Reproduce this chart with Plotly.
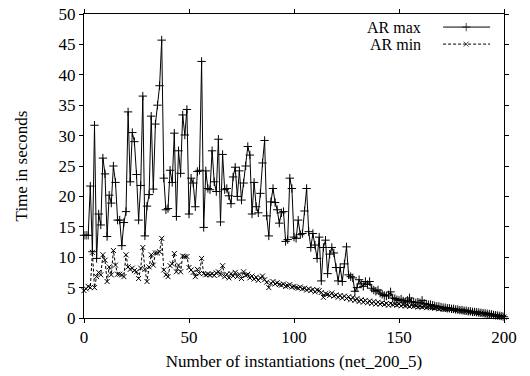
import plotly.graph_objects as go

# ---- data ----
x_vals = list(range(0, 201))

ar_max = [
    13.6, 13.6, 13.6, 21.7, 10.9, 31.7, 9.8, 17.1, 15.3, 26.3,
    23.7, 13.4, 20.2, 18.9, 25.0, 22.3, 16.1, 16.1, 11.9, 15.7,
    17.5, 33.9, 22.4, 30.5, 29.0, 23.6, 16.1, 21.8, 36.5, 13.5,
    18.4, 20.3, 33.2, 21.2, 31.9, 35.0, 38.2, 45.7, 23.0, 17.8,
    18.0, 24.3, 22.3, 30.4, 16.7, 27.5, 23.8, 33.4, 30.1, 34.3,
    17.1, 23.0, 22.2, 18.3, 24.1, 24.3, 42.2, 14.9, 24.2, 21.3,
    21.1, 27.5, 22.4, 20.8, 29.4, 15.8, 26.9, 21.1, 21.3, 20.1,
    18.8, 23.2, 24.8, 20.0, 24.2, 19.4, 22.2, 25.0, 28.2, 26.8,
    17.1, 22.3, 18.3, 17.3, 20.5, 25.5, 29.2, 16.8, 13.5, 19.1,
    21.3, 19.0, 17.8, 15.6, 17.3, 17.5, 12.6, 12.9, 23.0, 21.3,
    13.3, 13.1, 16.1, 13.7, 13.9, 17.6, 21.3, 14.2, 11.6, 13.9,
    12.0, 9.8, 13.3, 6.1, 11.6, 12.8, 7.3, 10.5, 11.6, 10.7,
    8.3, 6.1, 8.3, 6.0, 8.9, 11.7, 7.1, 6.8, 6.6, 4.4,
    5.0, 6.3, 5.6, 5.2, 6.0, 5.5, 6.0, 4.9, 4.6, 4.4,
    4.6, 4.1, 3.9, 3.7, 3.6, 3.8, 4.3, 3.3, 3.2, 3.0,
    2.9, 3.1, 2.8, 2.6, 2.9, 3.3, 2.7, 2.6, 2.5, 2.6,
    2.5, 2.9, 2.4, 2.3, 2.2, 2.2, 2.1, 2.0, 1.9, 1.9,
    1.8, 1.7, 1.7, 1.6, 1.6, 1.5, 1.5, 1.4, 1.4, 1.3,
    1.3, 1.2, 1.2, 1.1, 1.1, 1.0, 1.0, 0.95, 0.9, 0.85,
    0.8, 0.75, 0.7, 0.65, 0.6, 0.5, 0.45, 0.4, 0.35, 0.3, 0.2,
]

ar_min = [
    4.5, 4.8, 5.2, 5.0, 10.8, 5.0, 6.8, 7.5, 7.1, 10.4,
    9.5, 6.0, 8.4, 7.1, 11.1, 8.7, 7.2, 7.2, 7.1, 6.8,
    10.4, 8.4, 8.0, 8.2, 7.8, 7.6, 6.5, 8.2, 11.6, 8.0,
    6.0, 8.4, 10.4, 8.7, 10.7, 10.7, 10.9, 13.1, 7.9, 7.1,
    6.8, 8.6, 8.9, 10.6, 7.6, 8.7, 7.6, 10.2, 10.1, 10.1,
    8.3, 7.9, 7.5, 6.8, 8.0, 7.3, 9.8, 7.3, 7.1, 7.2,
    7.1, 7.3, 7.0, 7.4, 7.6, 7.1, 8.6, 6.8, 7.2, 6.6,
    7.3, 6.9, 7.5, 6.8, 7.2, 6.5, 7.6, 7.0, 7.2, 6.6,
    6.9, 6.4, 6.7, 6.2, 6.6, 6.9, 6.3, 5.9, 5.0, 5.7,
    6.0, 5.6, 5.8, 5.5, 5.4, 5.6, 5.2, 5.3, 5.5, 5.1,
    5.2, 5.0, 4.9, 5.1, 4.8, 4.9, 4.6, 4.8, 4.5, 4.7,
    4.3, 4.6, 4.5, 4.2, 3.4, 4.0, 3.9, 3.7, 4.1, 3.6,
    3.8, 3.4, 3.7, 3.3, 3.6, 3.2, 3.5, 3.0, 3.4, 2.9,
    3.2, 2.7, 3.0, 2.6, 2.9, 2.5, 2.8, 2.4, 2.7, 2.3,
    2.6, 2.3, 2.5, 2.2, 2.4, 2.1, 2.4, 2.2, 2.3, 2.1,
    2.3, 2.0, 2.2, 2.0, 2.1, 1.9, 2.1, 1.9, 2.0, 1.8,
    1.9, 1.8, 1.9, 1.7, 1.8, 1.7, 1.7, 1.6, 1.7, 1.5,
    1.6, 1.5, 1.5, 1.4, 1.5, 1.4, 1.4, 1.3, 1.3, 1.2,
    1.2, 1.1, 1.1, 1.0, 1.0, 0.95, 0.9, 0.85, 0.8, 0.8,
    0.7, 0.7, 0.6, 0.55, 0.5, 0.45, 0.4, 0.35, 0.3, 0.25, 0.15,
]

series_names = ["AR max", "AR min"]
x_ticks = [0, 50, 100, 150, 200]
y_ticks = [0, 5, 10, 15, 20, 25, 30, 35, 40, 45, 50]
x_title = "Number of instantiations (net_200_5)"
y_title = "Time in seconds"

FONT = "Liberation Serif"
FS = 17

fig = go.Figure()

fig.add_trace(go.Scatter(
    x=x_vals, y=ar_max, mode="lines+markers", name=series_names[0],
    line=dict(color="black", width=1),
    marker=dict(symbol="cross-thin", size=6, color="black",
                line=dict(color="black", width=1)),
    cliponaxis=False, showlegend=False,
))
fig.add_trace(go.Scatter(
    x=x_vals, y=ar_min, mode="lines+markers", name=series_names[1],
    line=dict(color="black", width=1, dash="3px,2px"),
    marker=dict(symbol="x-thin", size=5, color="black",
                line=dict(color="black", width=1)),
    cliponaxis=False, showlegend=False,
))

# ---- gnuplot-style key (text left, sample right) on an overlay axis ----
key_rows = [(0.957, "solid", "cross-thin", 6), (0.901, "3px,2px", "x-thin", 5)]
for name, (ky, dash, sym, ms) in zip(series_names, key_rows):
    fig.add_trace(go.Scatter(
        x=[0.855, 0.910, 0.967], y=[ky, ky, ky], xaxis="x2", yaxis="y2",
        mode="lines+markers", showlegend=False, hoverinfo="skip",
        line=dict(color="black", width=1, dash=dash),
        marker=dict(symbol=sym, size=[0, ms, 0], color="black",
                    line=dict(color="black", width=1)),
        cliponaxis=False,
    ))
    fig.add_annotation(text=name, xref="paper", yref="paper",
                       x=0.807, y=ky, xanchor="right", yanchor="middle",
                       showarrow=False,
                       font=dict(family=FONT, size=16, color="black"))

axis_common = dict(
    showline=True, linecolor="black", linewidth=1, mirror="ticks",
    ticks="outside", ticklen=4, tickcolor="black", tickwidth=1,
    showgrid=False, zeroline=False, automargin=False,
    tickfont=dict(family=FONT, size=FS, color="black"),
)

fig.update_layout(
    width=530, height=376,
    margin=dict(l=84, r=26, t=14, b=58),
    paper_bgcolor="white", plot_bgcolor="white",
    font=dict(family=FONT, size=FS, color="black"),
    xaxis=dict(range=[0, 200], tickvals=x_ticks,
               title=dict(text=x_title, font=dict(family=FONT, size=FS), standoff=8),
               **axis_common),
    yaxis=dict(range=[0, 50], tickvals=y_ticks,
               title=dict(text=y_title, font=dict(family=FONT, size=FS), standoff=26),
               **axis_common),
    xaxis2=dict(overlaying="x", range=[0, 1], visible=False, automargin=False),
    yaxis2=dict(overlaying="y", range=[0, 1], visible=False, automargin=False),
)

fig.write_html(
    "out.html",
    config={"displayModeBar": False},
    post_script="document.body.style.margin='0';document.body.style.padding='0';",
)
